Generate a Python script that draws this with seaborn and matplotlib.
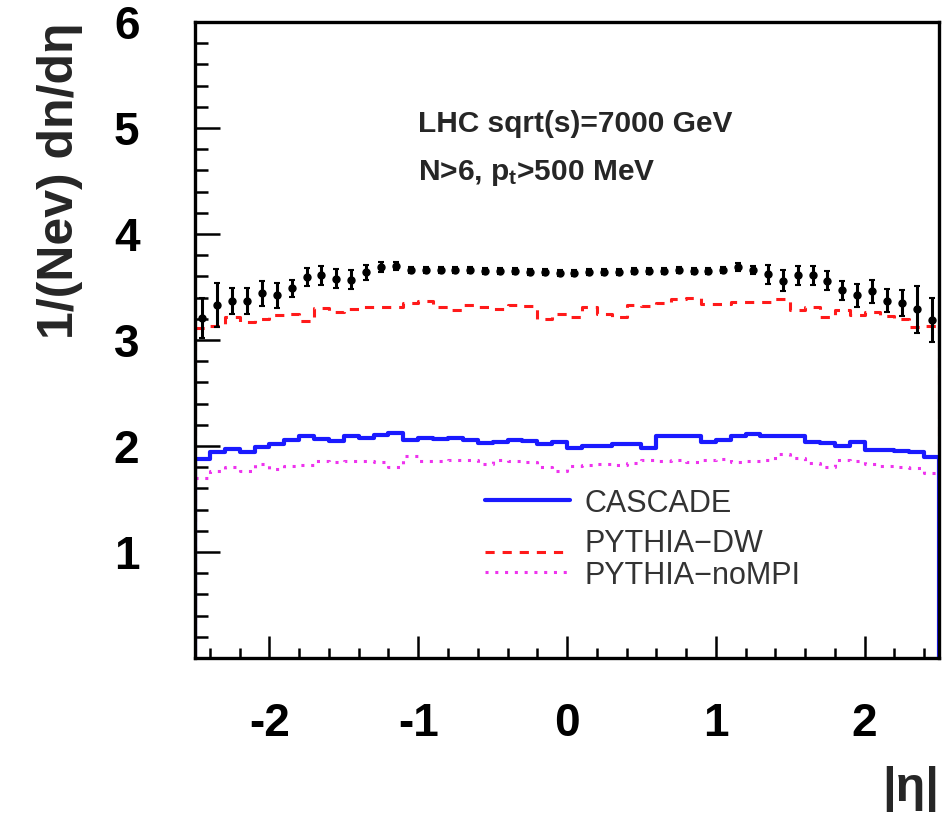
import numpy as np
import pandas as pd
import matplotlib
matplotlib.use("Agg")
import matplotlib.pyplot as plt
import seaborn as sns
from matplotlib.ticker import MultipleLocator

# ---------------- data ----------------
eta_min, eta_max, n_bins = -2.5, 2.5, 50

data_vals = [3.21, 3.33, 3.37, 3.37, 3.44, 3.42, 3.49, 3.59, 3.61, 3.58,
             3.57, 3.64, 3.69, 3.70, 3.66, 3.66, 3.66, 3.66, 3.66, 3.65,
             3.65, 3.65, 3.64, 3.64, 3.63, 3.63, 3.64, 3.64, 3.64, 3.65,
             3.65, 3.65, 3.66, 3.65, 3.65, 3.66, 3.69, 3.66, 3.62, 3.56,
             3.61, 3.61, 3.56, 3.47, 3.42, 3.46, 3.37, 3.35, 3.29, 3.19]
data_errs = [0.19, 0.21, 0.12, 0.12, 0.12, 0.12, 0.08, 0.085, 0.09, 0.09,
             0.09, 0.07, 0.05, 0.04, 0.03, 0.03, 0.03, 0.03, 0.03, 0.03,
             0.03, 0.03, 0.03, 0.03, 0.03, 0.03, 0.03, 0.03, 0.03, 0.03,
             0.03, 0.03, 0.03, 0.03, 0.03, 0.03, 0.04, 0.04, 0.09, 0.10,
             0.09, 0.09, 0.09, 0.09, 0.11, 0.11, 0.11, 0.12, 0.22, 0.21]
pythia_dw = [3.11, 3.13, 3.22, 3.17, 3.20, 3.24, 3.25, 3.18, 3.30, 3.26,
             3.29, 3.31, 3.31, 3.31, 3.35, 3.37, 3.31, 3.28, 3.33, 3.31,
             3.29, 3.33, 3.32, 3.20, 3.25, 3.22, 3.31, 3.25, 3.22, 3.33,
             3.32, 3.35, 3.39, 3.40, 3.34, 3.34, 3.36, 3.36, 3.36, 3.39,
             3.28, 3.31, 3.22, 3.28, 3.24, 3.26, 3.23, 3.20, 3.12, 3.13]
cascade = [1.88, 1.94, 1.97, 1.94, 1.99, 2.015, 2.06, 2.09, 2.07, 2.05,
           2.09, 2.08, 2.10, 2.12, 2.06, 2.08, 2.07, 2.08, 2.06, 2.03,
           2.04, 2.06, 2.05, 2.015, 2.04, 1.98, 2.00, 2.00, 2.02, 2.02,
           1.98, 2.09, 2.09, 2.09, 2.04, 2.06, 2.09, 2.11, 2.09, 2.09,
           2.09, 2.04, 2.03, 2.00, 2.04, 1.96, 1.96, 1.95, 1.94, 1.90]
pythia_nompi = [1.70, 1.76, 1.80, 1.76, 1.83, 1.78, 1.81, 1.82, 1.86, 1.85,
                1.86, 1.86, 1.85, 1.80, 1.91, 1.86, 1.86, 1.87, 1.87, 1.83,
                1.87, 1.86, 1.85, 1.80, 1.76, 1.81, 1.82, 1.83, 1.82, 1.84,
                1.87, 1.86, 1.87, 1.85, 1.87, 1.88, 1.85, 1.86, 1.87, 1.92,
                1.89, 1.84, 1.80, 1.87, 1.86, 1.83, 1.81, 1.80, 1.79, 1.75]

series_names = ["CASCADE", "PYTHIA\u2212DW", "PYTHIA\u2212noMPI"]
x_ticks = [-2, -1, 0, 1, 2]
y_ticks = [1, 2, 3, 4, 5, 6]
info_lines = ["LHC sqrt(s)=7000 GeV", r"N>6, p$_\mathregular{t}$>500 MeV"]

edges = np.linspace(eta_min, eta_max, n_bins + 1)
centers = 0.5 * (edges[:-1] + edges[1:])
bin_w = (eta_max - eta_min) / n_bins

# ---------------- style ----------------
sns.set_theme(style="white")
plt.rcParams["font.family"] = ["Liberation Sans", "DejaVu Sans"]
plt.rcParams["mathtext.default"] = "regular"

fig = plt.figure(figsize=(9.43, 8.18), dpi=100)
ax = fig.add_axes([0.2068, 0.1956, 0.789, 0.7775])

styles = [
    dict(color="#1a1aff", linestyle="-", linewidth=3.0),
    dict(color="#ff1a1a", linestyle=(0, (3.0, 2.6)), linewidth=2.2),
    dict(color="#ee33ee", linestyle=(0, (1.0, 2.2)), linewidth=2.2),
]
series_vals = [cascade, pythia_dw, pythia_nompi]

for vals, st in zip(series_vals, styles):
    df = pd.DataFrame({"eta": centers, "w": vals})
    sns.histplot(data=df, x="eta", weights="w", binwidth=bin_w,
                 binrange=(eta_min, eta_max), element="step",
                 fill=False, ax=ax, **st)
    # histogram outline drops to zero at both ends (ROOT style)
    ax.vlines([edges[0], edges[-1]], 0, [vals[0], vals[-1]], **st)

# data points
ax.errorbar(centers, data_vals, yerr=data_errs, fmt="o", color="black",
            markersize=5, elinewidth=2.2, capsize=2.5, capthick=1.5, zorder=5)

ax.set_xlim(eta_min, eta_max)
ax.set_ylim(0, 6)
ax.set_xticks(x_ticks)
ax.set_yticks(y_ticks)
ax.set_xticklabels([str(t) for t in x_ticks])
ax.set_yticklabels([str(t) for t in y_ticks])
ax.xaxis.set_minor_locator(MultipleLocator(0.2))
ax.yaxis.set_minor_locator(MultipleLocator(0.2))

ax.tick_params(axis="both", which="both", direction="in", top=False, right=False,
               bottom=True, left=True, colors="black", width=1.8)
ax.tick_params(axis="x", which="major", length=16, pad=32, labelsize=33)
ax.tick_params(axis="x", which="minor", length=7)
ax.tick_params(axis="y", which="major", length=18, pad=40, labelsize=33)
ax.tick_params(axis="y", which="minor", length=9)
for lab in ax.get_xticklabels() + ax.get_yticklabels():
    lab.set_fontweight("bold")

for sp in ax.spines.values():
    sp.set_visible(True)
    sp.set_color("black")
    sp.set_linewidth(2.4)

ax.set_ylabel("1/(Nev) dn/d\u03b7", fontsize=36, fontweight="bold", loc="top", labelpad=22)
ax.set_xlabel("|\u03b7|", fontsize=35, fontweight="bold", loc="right", labelpad=14)

# info text
ax.text(-1.0, 5.04, info_lines[0], fontsize=21.5, fontweight="bold", va="center", ha="left")
ax.text(-1.0, 4.58, info_lines[1], fontsize=21.5, fontweight="bold", va="center", ha="left")

# manual legend (tightly stacked ROOT-style entries)
leg_y = [0.248, 0.167, 0.135]
txt_dy = [-0.006, 0.012, -0.006]
for name, st, yy, dy in zip(series_names, styles, leg_y, txt_dy):
    ax.plot([0.39, 0.504], [yy, yy], transform=ax.transAxes, **st)
    ax.text(0.524, yy + dy, name, transform=ax.transAxes, fontsize=22,
            color="#333333", va="center", ha="left")

fig.savefig("out.png", dpi=100)
